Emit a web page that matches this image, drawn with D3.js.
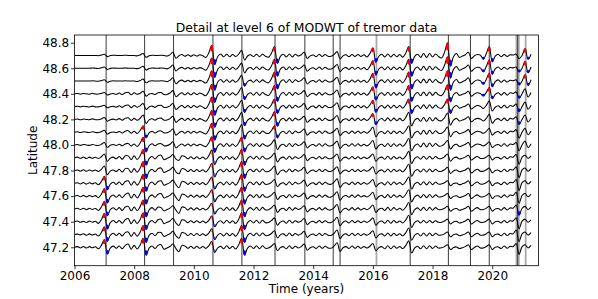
<!DOCTYPE html>
<html><head><meta charset="utf-8">
<script src="https://cdn.jsdelivr.net/npm/d3@7"></script>
<style>body{margin:0;background:#fff}svg{display:block}text{font-family:"DejaVu Sans",sans-serif}</style>
</head><body><svg id="c" width="598" height="299"></svg>
<script>
// ---------- DATA ----------
// latitude of each trace (bottom to top)
const latitudes = [47.2,47.3,47.4,47.5,47.6,47.7,47.8,47.9,48.0,48.1,48.2,48.3,48.4,48.5,48.6,48.7];
// samples every 0.1 year from 2006.0; values = wavelet detail offset in 0.01 deg
const startYear = 2006, stepYear = 0.1;
const trace_47_2 = [0,0.5,-0.5,0.6,-0.6,0.5,-0.4,0.4,
 -1.2,1.5,6,-5.4,-0.6,0.9, -0.8,1,-1.2,1.5,2.5,-1.5,1.5,
 -1.4,1.8,7,-6.3,-0.7,1, -1,1.5,2,-1.5,
 -0.5,0.6,2.5,-1,-3.5,1.5,1, -0.8,0.8,-0.8,0.8,-0.8,0.6,
 -0.9,1.1,4.5,-4,-0.5,0.7, -1.2,1.2,-1,0.8,
 -1.4,1.8,7,-6.3,-0.7,1, -1,1.2,-1.2,1.2,-0.8,
 -0.6,0.8,3,-2.7,-0.3,0.5, -1.2,1.2,-1,0.8,
 -0.5,0.6,2.5,-2.3,-0.3,0.4, -1,1,-0.8,0.8,-0.6,
 -0.7,0.9,3.5,-3.2,-0.4,0.5, -1,1,-0.8,0.8,-0.8,0.6,
 -0.6,0.8,3,-2.7,-0.3,0.5, -1.2,1.2,-1.2,1,-0.8,0.6,
 -1,1.3,5,-4.5,-0.5,0.8, -1.2,1.2,-1.2,1.2,-1,1,-0.6,
 -0.4,0.5,2,-1.8,-0.2,0.3, -1,
 -0.4,0.5,2,-1.8,-0.2, 1,-0.5,
 -0.5,0.5,2,-1.8,0,0.3, -1,1,-0.8,0.8,0.5,
 3,-5.5,0.5,2,-0.5,1.5];
const trace_47_3 = [0,0.3,-0.3,0.6,-0.6,0.5,-0.4,0.4,
 -1.2,1.5,6,-5.4,-0.6,0.9, -0.8,1,-1.2,1.5,2,-1.5,1.5,
 -1.4,1.8,7,-6.3,-0.7,1, -1,1.5,1.5,-1.5,
 -0.5,0.6,2.5,-1,-3,1.5,1, -0.8,0.8,-0.8,0.8,-0.8,0.6,
 -0.9,1.1,4.5,-4,-0.5,0.7, -1.2,1.2,-1,0.8,
 -1.4,1.8,7,-6.3,-0.7,1, -1,1.2,-1.2,1.2,-0.8,
 -0.6,0.8,3,-2.7,-0.3,0.5, -1.2,1.2,-1,0.8,
 -0.5,0.6,2.5,-2.3,-0.3,0.4, -1,1,-0.8,0.8,-0.6,
 -0.7,0.9,3.5,-3.2,-0.4,0.5, -1,1,-0.8,0.8,-0.8,0.6,
 -0.6,0.8,3,-2.7,-0.3,0.5, -1.2,1.2,-1.2,1,-0.8,0.6,
 -1,1.3,5,-4.5,-0.5,0.8, -1.2,1.2,-1.2,1.2,-1,1,-0.6,
 -0.4,0.5,2,-1.8,-0.2,0.3, -1,
 -0.4,0.5,2,-1.8,-0.2, 1,-0.5,
 -0.5,0.5,2,-1.8,0,0.3, -1,1,-0.8,0.8,0.5,
 3.5,-5.5,0.5,2,-0.5,1.5];
const trace_47_4 = [0,0.5,-0.5,0.3,-0.6,0.5,-0.4,0.4,
 -1.3,1.6,6.5,-5.9,-0.7,1, -0.8,1,-1.2,1.5,2.5,-1.5,1.5,
 -1.4,1.8,7,-6.3,-0.7,1, -1,1.5,2,-1.5,
 -0.5,0.6,2.5,-1,-3,1.5,1, -0.8,0.8,-0.8,0.8,-0.8,0.6,
 -0.9,1.1,4.5,-4,-0.5,0.7, -1.2,1.2,-1,0.8,
 -1.4,1.8,7,-6.3,-0.7,1, -1,1.2,-1.2,1.2,-0.8,
 -0.6,0.8,3,-2.7,-0.3,0.5, -1.2,1.2,-1,0.8,
 -0.5,0.6,2.5,-2.3,-0.3,0.4, -1,1,-0.8,0.8,-0.6,
 -0.7,0.9,3.5,-3.2,-0.4,0.5, -1,1,-0.8,0.8,-0.8,0.6,
 -0.6,0.8,3,-2.7,-0.3,0.5, -1.2,1.2,-1.2,1,-0.8,0.6,
 -1,1.3,5,-4.5,-0.5,0.8, -1,1,-1,1,-0.8,0.8,-0.5,
 -0.4,0.5,2,-1.8,-0.2,0.3, -1,
 -0.4,0.5,2,-1.8,-0.2, 1,-0.5,
 -0.5,0.5,2,-1.8,0,0.3, -1,1,-0.8,0.8,0.5,
 3,-5.5,0.5,2,-0.5,1.5];
const trace_47_5 = [0,0.5,-0.5,0.6,-0.6,0.5,-0.4,0.4,
 -1.2,1.5,6,-5.4,-0.6,0.9, -0.8,1,-1.2,1.5,2,-1.5,1.5,
 -1.4,1.8,7,-6.3,-0.7,1, -1,1.5,1,-1.5,
 -0.5,0.6,2.5,-1,-3.5,1.5,1, -0.8,0.8,-0.8,0.8,-0.8,0.6,
 -0.9,1.1,4.5,-4,-0.5,0.7, -1.2,1.2,-1,0.8,
 -1.4,1.8,7,-6.3,-0.7,1, -1,1.2,-1.2,1.2,-0.8,
 -0.6,0.8,3,-2.7,-0.3,0.5, -1.2,1.2,-1,0.8,
 -0.5,0.6,2.5,-2.3,-0.3,0.4, -1,1,-0.8,0.8,-0.6,
 -0.7,0.9,3.5,-3.2,-0.4,0.5, -1,1,-0.8,0.8,-0.8,0.6,
 -0.6,0.8,3,-2.7,-0.3,0.5, -1.2,1.2,-1.2,1,-0.8,0.6,
 -1,1.3,5,-4.5,-0.5,0.8, -1.2,1.2,-1.2,1.2,-1,1,-0.6,
 -0.4,0.5,2,-1.8,-0.2,0.3, -1,
 -0.4,0.5,2,-1.8,-0.2, 1,-0.5,
 -0.5,0.5,2,-1.8,0,0.3, -1,1,-0.8,0.8,0.5,
 3,-5,0.5,2,-0.5,1.5];
const trace_47_6 = [0,0.5,-0.5,0.6,-0.6,0.5,-0.4,0.4,
 -1.2,1.5,6,-5.4,-0.6,0.9, -0.8,1,-1.2,1.2,2.5,-1.5,1.5,
 -1.4,1.8,7,-6.3,-0.7,1, -1,1.5,2,-1.5,
 -0.5,0.6,2.5,-1,-3.5,1.5,1, -0.8,0.8,-0.8,0.8,-0.8,0.6,
 -1,1.3,5,-4.5,-0.5,0.8, -1.2,1.2,-1,0.8,
 -1.4,1.8,7,-6.3,-0.7,1, -1,1.2,-1.2,1.2,-0.8,
 -0.6,0.8,3,-2.7,-0.3,0.5, -1.2,1.2,-1,0.8,
 -0.5,0.6,2.5,-2.3,-0.3,0.4, -1,1,-0.8,0.8,-0.6,
 -0.7,0.9,3.5,-3.2,-0.4,0.5, -0.8,0.8,-1,1,-0.6,0.4,
 -0.6,0.8,3,-2.7,-0.3,0.5, -1.2,1.2,-1.2,1,-0.8,0.6,
 -1,1.3,5,-4.5,-0.5,0.8, -1.2,1.2,-1.2,1.2,-1,1,-0.6,
 -0.4,0.5,2,-1.8,-0.2,0.3, -1,
 -0.4,0.5,2,-1.8,-0.2, 1,-0.5,
 -0.5,0.5,2,-1.8,0,0.3, -1,1,-0.8,0.8,0.5,
 3,-5.5,0.5,2,-0.5,1.5];
const trace_47_7 = [0,0.5,-0.5,0.6,-0.6,0.5,-0.4,0.4,
 -1.1,1.4,5.5,-5,-0.6,0.8, -0.8,1,-1.2,1.5,2,-1.5,1.5,
 -1.4,1.8,7,-6.3,-0.7,1, -1,1.5,2,-1.5,
 -0.5,0.6,2.5,-1,-3.5,1.5,1, -0.8,0.8,-0.8,0.8,-0.8,0.6,
 -1,1.3,5,-4.5,-0.5,0.8, -1.2,1.2,-1,0.8,
 -1.4,1.8,7,-6.3,-0.7,1, -1,1.2,-1.2,1.2,-0.8,
 -0.6,0.8,3,-2.7,-0.3,0.5, -1.2,1.2,-1,0.8,
 -0.5,0.6,2.5,-2.3,-0.3,0.4, -1,1,-0.8,0.8,-0.6,
 -0.7,0.9,3.5,-3.2,-0.4,0.5, -1,1,-0.8,0.8,-0.8,0.6,
 -0.6,0.8,3,-2.7,-0.3,0.5, -1.2,1.2,-1.2,1,-0.8,0.6,
 -1,1.3,5,-4.5,-0.5,0.8, -1.2,1.2,-1.2,1.2,-1,1,-0.6,
 -0.4,0.5,2,-1.8,-0.2,0.3, -1,
 -0.4,0.5,2,-1.8,-0.2, 1,-0.5,
 -0.5,0.5,2,-1.8,0,0.3, -1,1,-0.8,0.8,0.5,
 3,-5.5,0.5,2,-0.5,1.5];
const trace_47_8 = [0,0.5,-0.5,0.6,-0.6,0.5,-0.4,0.4,
 -0.7,0.9,3.5,-3.2,-0.4,0.5, -0.8,1,-1.2,1.5,1.5,-1.5,1.5,
 -1.4,1.8,7,-6.3,-0.7,1, -1,1.5,2,-1.5,
 -0.5,0.6,2.5,-1,-2.5,1.5,1, -0.8,0.8,-0.8,0.8,-0.8,0.6,
 -1.1,1.4,5.5,-5,-0.6,0.8, -1.2,1.2,-1,0.8,
 -1.4,1.8,7,-6.3,-0.7,1, -1,1.2,-1.2,1.2,-0.8,
 -0.7,0.9,3.5,-3.2,-0.4,0.5, -1.2,1.2,-1,0.8,
 -0.5,0.6,2.5,-2.3,-0.3,0.4, -1,1,-0.8,0.8,-0.6,
 -0.6,0.8,3,-2.7,-0.3,0.5, -1,1,-0.8,0.8,-0.8,0.6,
 -0.6,0.8,3,-2.7,-0.3,0.5, -1.2,1.2,-1.2,1,-0.8,0.6,
 -1,1.3,5,-4.5,-0.5,0.8, -1.2,1.2,-1.2,1.2,-1,1,-0.6,
 -0.5,0.6,2.5,-2.3,-0.3,0.4, -1,
 -0.4,0.5,2,-1.8,-0.2, 1,-0.5,
 -0.5,0.5,2,-1.8,0,0.3, -1,1,-0.8,0.8,0.5,
 3,-5.5,0.5,2,-0.5,1.5];
const trace_47_9 = [0,0.5,-0.5,0.6,-0.6,0.5,-0.4,0.4,
 -0.6,0.8,3,-2.7,-0.3,0.5, -0.8,1,-1.2,1.5,1.5,-1.5,1.5,
 -1.3,1.6,6.5,-5.9,-0.7,1, -1,1.5,2,-1.5,
 -0.5,0.6,2.5,-1,-2,1.5,1, -0.8,0.8,-0.8,0.8,-0.8,0.6,
 -1.2,1.5,6,-5.4,-0.6,0.9, -1.2,1.2,-1,0.8,
 -1.3,1.6,6.5,-5.9,-0.7,1, -1,1.2,-1.2,1.2,-0.8,
 -0.7,0.9,3.5,-3.2,-0.4,0.5, -1.2,1.2,-1,0.8,
 -0.5,0.6,2.5,-2.3,-0.3,0.4, -1,1,-0.8,0.8,-0.6,
 -0.6,0.8,3,-2.7,-0.3,0.5, -1,1,-0.8,0.8,-0.8,0.6,
 -0.6,0.8,3,-2.7,-0.3,0.5, -1.2,1.2,-1.2,1,-0.8,0.6,
 -1,1.3,5,-4.5,-0.5,0.8, -1.2,1.2,-1.2,1.2,-1,1,-0.6,
 -0.6,0.8,3,-2.7,-0.3,0.5, -1,
 -0.4,0.5,2,-1.8,-0.2, 1,-0.5,
 -0.5,0.5,2,-1.8,0,0.3, -1,1,-0.8,0.8,0.5,
 2.5,-5,0.5,2,-0.5,1.5];
const trace_48_0 = [0,0.3,-0.3,0.3,0,-0.3,0.4,-0.2,
 -0.4,0.5,2,-1.8,-0.2,0.3, -0.4,0.6,-0.6,0.8,1.2,-0.8,0.8,
 -1.2,1.5,6,-5.4,-0.6,0.9, -0.6,0.8,1,-0.6,
 -0.5,0.6,2.5,-2.3,-0.5,0.8,-0.8, 0.8,-0.8,0.8,-0.6,0.6,-0.4,
 -1.3,1.6,6.5,-5.9,-0.7,1, -1.2,1.2,-1,0.8,
 -1.2,1.5,6,-5.4,-0.6,0.9, -1,1.2,-1.2,1,-0.6,
 -0.8,1,4,-3.6,-0.4,0.6, -1.2,1.2,-1.2,1,
 -0.5,0.6,2.5,-2.3,-0.3,0.4, -1,1,-1,0.9,-0.6,
 -0.6,0.8,3,-2.7,-0.3,0.5, -1,1,-1,1,-0.8,0.6,
 -0.7,0.9,3.5,-3.2,-0.4,0.5, -1.2,1.2,-1.2,1,-1,0.8,
 -1,1.3,5,-4.5,-0.5,0.8, -1.5,1.5,-1.5,1.5,-1.2,1.2,-0.8,
 -0.7,0.9,3.5,-3.2,-0.4,0.5, -1.2,
 -0.4,0.5,2,-1.8,-0.2, 0.8,0.3,
 -0.8,0.5,2.5,-1.9,-0.3,0.4, -1,1,-1,0.8,0.3,
 2,-4.5,0,3,-2,1];
const trace_48_1 = [0,0.3,-0.3,0.3,0,-0.3,0.4,-0.2,
 -0.3,0.4,1.5,-1.4,-0.2,0.2, -0.4,0.6,-0.6,0.8,1.2,-0.8,0.8,
 -1,1.3,5,-4.5,-0.5,0.8, -0.6,0.8,1,-0.6,
 -0.5,0.6,2.5,-2.3,-0.5,0.8,-0.8, 0.8,-0.8,0.8,-0.6,0.6,-0.4,
 -1.4,1.8,7,-6.3,-0.7,1, -1.2,1.2,-1,0.8,
 -1.2,1.5,6,-5.4,-0.6,0.9, -1,1.2,-1.2,1,-0.6,
 -1,1.3,5,-4.5,-0.5,0.8, -1.2,1.2,-1.2,1,
 -0.5,0.6,2.5,-2.3,-0.3,0.4, -1,1,-1,0.9,-0.6,
 -0.6,0.8,3,-2.7,-0.3,0.5, -1,1,-1,1,-0.8,0.6,
 -0.8,1,4,-3.6,-0.4,0.6, -1.2,1.2,-1.2,1,-1,0.8,
 -1,1.3,5,-4.5,-0.5,0.8, -1.5,1.5,-1.5,1.5,-1.2,1.2,-0.8,
 -0.8,1,4,-3.6,-0.4,0.6, -1.2,
 -0.4,0.5,2,-1.8,-0.2, 0.8,0.3,
 -0.9,0.6,3,-2.3,-0.3,0.5, -1,1,-1,0.8,0.3,
 2,-4.5,0,3,-2,1];
const trace_48_2 = [0,0.3,-0.3,0.3,0,-0.3,0.4,-0.2,
 -0.3,0.4,1.5,-1.4,-0.2,0.2, -0.4,0.6,-0.6,0.8,1.2,-0.8,0.8,
 -0.7,0.9,3.5,-3.2,-0.4,0.5, -0.6,0.8,1,-0.6,
 -0.5,0.6,2.5,-2.3,-0.5,0.8,-0.8, 0.8,-0.8,0.8,-0.6,0.6,-0.4,
 -1.4,1.8,7,-6.3,-0.7,1, -1.2,1.2,-1,0.8,
 -1.1,1.4,5.5,-5,-0.6,0.8, -1,1.2,-1.2,1,-0.6,
 -1.2,1.5,6,-5.4,-0.6,0.9, -1.2,1.2,-1.2,1,
 -0.5,0.6,2.5,-2.3,-0.3,0.4, -1,1,-1,0.9,-0.6,
 -0.6,0.8,3,-2.7,-0.3,0.5, -1,1,-1,1,-0.8,0.6,
 -0.9,1.1,4.5,-4,-0.5,0.7, -1.2,1.2,-1.2,1,-1,0.8,
 -1.1,1.4,5.5,-5,-0.6,0.8, -1.5,1.5,-1.5,1.5,-1.2,1.2,-0.8,
 -1,1.3,5,-4.5,-0.5,0.8, -1.2,
 -0.4,0.5,2,-1.8,-0.2, 0.8,0.3,
 -1.2,0.8,4,-3,-0.4,0.6, -1,1,-1,0.8,0.3,
 2,-4,0,3.5,-2,1];
const trace_48_3 = [0,0.3,-0.3,0.3,0,-0.3,0.4,-0.2,
 -0.2,0.3,1,-0.9,-0.1,0.2, -0.4,0.6,-0.6,0.8,1.2,-0.8,0.8,
 -0.5,0.6,2.5,-2.3,-0.3,0.4, -0.6,0.8,1,-0.6,
 -0.5,0.6,2.5,-2.3,-0.5,0.8,-0.8, 0.8,-0.8,0.8,-0.6,0.6,-0.4,
 -1.5,1.9,7.5,-6.8,-0.8,1.1, -1.2,1.2,-1,0.8,
 -1,1.3,5,-4.5,-0.5,0.8, -1,1.2,-1.2,1,-0.6,
 -1.2,1.5,6,-5.4,-0.6,0.9, -1.2,1.2,-1.2,1,
 -0.5,0.6,2.5,-2.3,-0.3,0.4, -1,1,-1,0.9,-0.6,
 -0.6,0.8,3,-2.7,-0.3,0.5, -1,1,-1,1,-0.8,0.6,
 -1,1.3,5,-4.5,-0.5,0.8, -1.2,1.2,-1.2,1,-1,0.8,
 -1.2,1.5,6,-5.4,-0.6,0.9, -1.5,1.5,-1.5,1.5,-1.2,1.2,-0.8,
 -1.2,1.5,6,-5.4,-0.6,0.9, -1.2,
 -0.4,0.5,2,-1.8,-0.2, 0.8,0.3,
 -1.4,0.9,4.5,-3.4,-0.5,0.7, -1,1,-1,0.8,0.3,
 2,-4,0,3.5,-2,1];
const trace_48_4 = [0,0.3,-0.3,0.3,0,-0.3,0.4,-0.2,
 -0.2,0.3,1,-0.9,-0.1,0.2, -0.4,0.6,-0.6,0.8,1.2,-0.8,0.8,
 -0.4,0.5,2,-1.8,-0.2,0.3, -0.6,0.8,1,-0.6,
 -0.5,0.6,2.5,-2.3,-0.5,0.8,-0.8, 0.8,-0.8,0.8,-0.6,0.6,-0.4,
 -1.5,1.9,7.5,-6.8,-0.8,1.1, -1.2,1.2,-1,0.8,
 -1,1.3,5,-4.5,-0.5,0.8, -1,1.2,-1.2,1,-0.6,
 -1.3,1.6,6.5,-5.9,-0.7,1, -1.2,1.2,-1.2,1,
 -0.5,0.6,2.5,-2.3,-0.3,0.4, -1,1,-1,0.9,-0.6,
 -0.6,0.8,3,-2.7,-0.3,0.5, -1,1,-1,1,-0.8,0.6,
 -1.1,1.4,5.5,-5,-0.6,0.8, -1.2,1.2,-1.2,1,-1,0.8,
 -1.3,1.6,6.5,-5.9,-0.7,1, -1.5,1.5,-1.5,1.5,-1.2,1.2,-0.8,
 -1.4,1.8,7,-6.3,-0.7,1, -1.2,
 -0.4,0.5,2,-1.8,-0.2, 0.8,0.3,
 -1.5,1,5,-3.8,-0.5,0.8, -1,1,-1,0.8,0.3,
 1.5,-3.5,0,4,-2.5,1];
const trace_48_5 = [0,0,0,0,0,0,0.2,0,
 -0.2,0.3,1,-0.9,-0.1,0.2, 0,0,0,0.2,0,0,0,
 -0.3,0.4,1.5,-1.4,-0.2,0.2, 0,0,0.2,0,
 -0.5,0.6,2.5,-2.2,-0.2,0.7,-0.6, 0.6,-0.6,0.6,-0.5,0.5,-0.3,
 -1.6,2,8,-7.2,-0.8,1.2, -1,1,-1,0.8,
 -0.9,1.1,4.5,-4,-0.5,0.7, -1,1,-1,0.9,-0.6,
 -1.4,1.8,7,-6.3,-0.7,1, -1.2,1.2,-1.2,1,
 -0.5,0.6,2.5,-2.3,-0.3,0.4, -1,1,-0.8,0.8,-0.6,
 -0.6,0.8,3,-2.7,-0.3,0.5, -1,0.8,-0.8,0.8,-0.8,0.6,
 -1.2,1.5,6,-5.4,-0.6,0.9, -1.2,1.2,-1.2,1,-1,0.8,
 -1.4,1.8,7,-6.3,-0.7,1, -1.5,1.5,-1.5,1.5,-1.2,1.2,-0.8,
 -1.6,2,8,-7.2,-0.8,1.2, -1.5,
 -0.5,0.6,2.5,-2.3,-0.3, 0.8,0.3,
 -2.5,1.2,6,-4.5,-0.5,0.9, -1,0.8,-0.8,0.6,0.3,
 1,-3,0,5,-3.5,1];
const trace_48_6 = [0,0,0,0,0,0,0.2,0,
 -0.2,0.3,1,-0.9,-0.1,0.2, 0,0,0,0.2,0,0,0,
 -0.3,0.4,1.5,-1.4,-0.2,0.2, 0,0,0.2,0,
 -0.5,0.6,2.5,-2.2,-0.2,0.7,-0.6, 0.6,-0.6,0.6,-0.5,0.5,-0.3,
 -1.6,2,8,-7.2,-0.8,1.2, -1,1,-1,0.8,
 -0.8,1,4,-3.6,-0.4,0.6, -1,1,-1,0.9,-0.6,
 -1.4,1.8,7,-6.3,-0.7,1, -1.2,1.2,-1.2,1,
 -0.5,0.6,2.5,-2.3,-0.3,0.4, -1,1,-0.8,0.8,-0.6,
 -0.6,0.8,3,-2.7,-0.3,0.5, -1,0.8,-0.8,0.8,-0.8,0.6,
 -1.2,1.5,6,-5.4,-0.6,0.9, -1.2,1.2,-1.2,1,-1,0.8,
 -1.4,1.8,7,-6.3,-0.7,1, -1.5,1.5,-1.5,1.5,-1.2,1.2,-0.8,
 -1.8,2.3,9,-7.8,-0.9,1.4, -1.5,
 -0.5,0.6,2.5,-2.3,-0.3, 0.8,0.3,
 -2.8,1.3,6.5,-4.8,-0.5,1, -1,0.8,-0.8,0.6,0.3,
 1,-3,0,5.5,-3.5,1];
const trace_48_7 = [0,0,0,0,0,0,0,0,
 -0.2,0.3,1,-0.9,-0.1,0.2, 0,0,0,0.2,0,0,0,
 -0.3,0.4,1.5,-1.4,-0.2,0.2, 0,0,0.2,0,
 -0.5,0.6,2.5,-2.2,-0.2,0.7,-0.6, 0.6,-0.6,0.6,-0.5,0.5,-0.3,
 -1.6,2,8,-7.2,-0.8,1.2, -1,1,-1,0.8,
 -0.8,1,4,-3.6,-0.4,0.6, -1,1,-1,0.9,-0.6,
 -1.4,1.8,7,-6.3,-0.7,1, -1.2,1.2,-1.2,1,
 -0.5,0.6,2.5,-2.3,-0.3,0.4, -1,1,-0.8,0.8,-0.6,
 -0.6,0.8,3,-2.7,-0.3,0.5, -1,0.8,-0.8,0.8,-0.8,0.6,
 -1.2,1.5,6,-5.4,-0.6,0.9, -1.2,1.2,-1.2,1,-1,0.8,
 -1.4,1.8,7,-6.3,-0.7,1, -1.5,1.5,-1.5,1.5,-1.2,1.2,-0.8,
 -2,2.5,10,-8.5,-1,1.5, -1.5,
 -0.5,0.6,2.5,-2.3,-0.3, 0.8,0.3,
 -3,1.4,7,-5,-0.5,1, -1,0.8,-0.8,0.6,0.3,
 1,-2.5,0,5.5,-3,1];
const traces = [trace_47_2,trace_47_3,trace_47_4,trace_47_5,trace_47_6,trace_47_7,trace_47_8,trace_47_9,
  trace_48_0,trace_48_1,trace_48_2,trace_48_3,trace_48_4,trace_48_5,trace_48_6,trace_48_7];

// event times (vertical lines)
const eventLines = [2007.06,2008.35,2009.32,2010.64,2011.61,2012.72,2013.72,2014.67,2014.90,2017.25,2018.53,2019.27,2019.90,2020.85];
const grayEventLines = [2016.12,2020.81,2020.89,2021.12];

// detected positive (red) / negative (blue) extremes: [time, latitudes]
const peakMarks = [
 [2007.0,[47.2,47.3,47.4,47.5,47.6,47.7]],
 [2008.3,[47.2,47.3,47.4,47.5,47.6,47.7,47.8,47.9,48.0,48.1]],
 [2010.6,[48.0,48.1,48.2,48.3,48.4,48.5,48.6,48.7]],
 [2011.6,[47.2,47.3,47.4,47.5,47.6,47.7,47.8,47.9,48.0]],
 [2012.7,[48.1,48.2,48.3,48.4,48.5,48.6,48.7]],
 [2016.0,[48.2,48.3,48.4,48.5,48.6,48.7]],
 [2017.2,[48.3,48.4,48.5,48.6,48.7]],
 [2018.5,[48.3,48.4,48.5,48.6,48.7]],
 [2019.9,[48.4,48.5,48.6,48.7]],
 [2021.1,[48.5,48.6,48.7]]
];
const troughMarks = [
 [2007.1,[47.2,47.3,47.4,47.5,47.6,47.7]],
 [2008.4,[47.2,47.3,47.4,47.5,47.6,47.7,47.8,47.9,48.0,48.1]],
 [2010.7,[48.0,48.1,48.2,48.3,48.4,48.5,48.6,48.7]],
 [2011.7,[47.2,47.3,47.4,47.5,47.6,47.7,47.8,47.9,48.0,48.1,48.2,48.3,48.4,48.5]],
 [2012.8,[48.1,48.2,48.3,48.4,48.5,48.6,48.7]],
 [2016.1,[48.2,48.3,48.4,48.5,48.6,48.7]],
 [2017.3,[48.3,48.4,48.5,48.6,48.7]],
 [2018.6,[48.3,48.4,48.5,48.6,48.7]],
 [2019.7,[48.4,48.5,48.6,48.7]],
 [2020.0,[48.4,48.5,48.6,48.7]],
 [2020.9,[47.5,48.2,48.3,48.4,48.5,48.6]],
 [2021.2,[48.5,48.6,48.7]]
];
const weakPeakMarks = [[2010.6,[47.2,47.3,47.4,47.5,47.6,47.7,47.8,47.9]]];
const weakTroughMarks = [[2010.7,[47.2,47.3,47.4,47.5,47.6,47.7,47.8,47.9]]];

const xTicks = [2006,2008,2010,2012,2014,2016,2018,2020];
const yTicks = [47.2,47.4,47.6,47.8,48.0,48.2,48.4,48.6,48.8];
const titleText = "Detail at level 6 of MODWT of tremor data";
const xLabel = "Time (years)", yLabel = "Latitude";

// ---------- DRAW ----------
const L=74.5, R=538.5, T=35, B=265.7;
const x = d3.scaleLinear().domain([2006,2021.55]).range([L,R]);
const y = d3.scaleLinear().domain([47.056,48.86]).range([B,T]);
const svg = d3.select('#c');
svg.append('defs').append('clipPath').attr('id','clip')
  .append('rect').attr('x',L).attr('y',T).attr('width',R-L).attr('height',B-T);
const g = svg.append('g').attr('clip-path','url(#clip)');

// vertical event lines
g.selectAll('line.gray').data(grayEventLines).enter().append('line')
  .attr('x1',d=>x(d)).attr('x2',d=>x(d)).attr('y1',T).attr('y2',B)
  .attr('stroke','#a9a9a9').attr('stroke-width',1.8);
g.selectAll('line.ev').data(eventLines).enter().append('line')
  .attr('x1',d=>x(d)).attr('x2',d=>x(d)).attr('y1',T).attr('y2',B)
  .attr('stroke','#3c3c3c').attr('stroke-width',1);

// traces
const line = d3.line().x(d=>x(d[0])).y(d=>y(d[1])).curve(d3.curveCatmullRom.alpha(0.5));
traces.forEach((vals,k)=>{
  const pts = vals.map((v,i)=>[startYear+i*stepYear, latitudes[k]+v*0.01]);
  g.append('path').attr('d',line(pts)).attr('fill','none')
    .attr('stroke','#000').attr('stroke-width',1.05);
});

// markers
function drawMarks(list,color,op){
  list.forEach(([t,lats])=>{
    const i = Math.round((t-startYear)/stepYear);
    lats.forEach(lat=>{
      const k = latitudes.findIndex(l=>Math.abs(l-lat)<1e-6);
      if(k<0) return;
      const v = traces[k][i]||0;
      const full = Math.abs(y(lat+v*0.01)-y(lat));
      g.append('ellipse')
        .attr('cx',x(t)).attr('cy',y(lat+0.68*v*0.01))
        .attr('rx',1.5).attr('ry',Math.max(1.4,full*0.3))
        .attr('fill',color).attr('opacity',op);
    });
  });
}
drawMarks(weakPeakMarks,'#ff0000',0.45);
drawMarks(weakTroughMarks,'#0000ff',0.45);
drawMarks(peakMarks,'#ff0000',1);
drawMarks(troughMarks,'#0000ff',1);

// axes
const xa = svg.append('g').attr('transform',`translate(0,${B})`)
  .call(d3.axisBottom(x).tickValues(xTicks).tickFormat(d3.format('d')).tickSize(3.5).tickPadding(2.3).tickSizeOuter(0));
const ya = svg.append('g').attr('transform',`translate(${L},0)`)
  .call(d3.axisLeft(y).tickValues(yTicks).tickFormat(d3.format('.1f')).tickSize(3.5).tickPadding(1.8).tickSizeOuter(0));
[xa,ya].forEach(a=>{
  a.select('.domain').remove();
  a.selectAll('line').attr('stroke','#000').attr('stroke-width',0.8);
  a.selectAll('text').attr('font-size',12).attr('font-family','DejaVu Sans').attr('fill','#000');
});
svg.append('rect').attr('x',L).attr('y',T).attr('width',R-L).attr('height',B-T)
  .attr('fill','none').attr('stroke','#000').attr('stroke-width',0.8);

svg.append('text').attr('x',(L+R)/2).attr('y',31.5).attr('text-anchor','middle')
  .attr('font-size',12.4).text(titleText);
svg.append('text').attr('x',(L+R)/2).attr('y',293.3).attr('text-anchor','middle')
  .attr('font-size',12).text(xLabel);
svg.append('text').attr('transform',`translate(37.3,${(T+B)/2}) rotate(-90)`).attr('text-anchor','middle')
  .attr('font-size',12).text(yLabel);
</script></body></html>
